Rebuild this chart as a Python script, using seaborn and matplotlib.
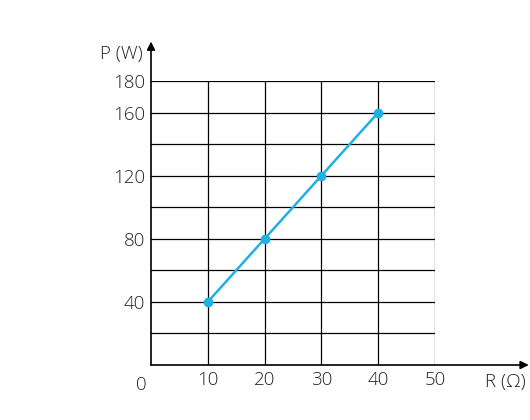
import numpy as np
import pandas as pd
import seaborn as sns
import matplotlib.pyplot as plt

resistance = [10, 20, 30, 40]
power = [40, 80, 120, 160]
x_ticks = [10, 20, 30, 40, 50]
y_ticks = [40, 80, 120, 160, 180]

df = pd.DataFrame({"R": resistance, "P": power})

sns.set_style("white")
plt.rcParams['font.family'] = ['Open Sans', 'DejaVu Sans']

fig = plt.figure(figsize=(5.3, 4.2), dpi=100)
ax = fig.add_axes([151 / 530, 55 / 420, 284 / 530, 284 / 420])

ax.set_xlim(0, 50)
ax.set_ylim(0, 180)

# grid: every 10 in x, every 20 in y, plus the 180 top line
for gx in range(10, 51, 10):
    ax.plot([gx, gx], [0, 180], color="black", lw=0.9, zorder=1)
for gy in list(range(20, 161, 20)) + [180]:
    ax.plot([0, 50], [gy, gy], color="black", lw=0.9, zorder=1)

sns.lineplot(data=df, x="R", y="P", ax=ax, color="#1fb0e6", lw=1.8,
             marker="o", markersize=7, markeredgewidth=0, zorder=3)

for s in ax.spines.values():
    s.set_visible(False)

# axes with arrows
ax.annotate("", xy=(66.5, 0), xytext=(0, 0), annotation_clip=False,
            arrowprops=dict(arrowstyle="-|>", color="black", lw=1.2,
                            mutation_scale=12, shrinkA=0, shrinkB=0))
ax.annotate("", xy=(0, 205), xytext=(0, 0), annotation_clip=False,
            arrowprops=dict(arrowstyle="-|>", color="black", lw=1.2,
                            mutation_scale=12, shrinkA=0, shrinkB=0))

fs = 13.5
ax.set_xticks(x_ticks)
ax.set_yticks(y_ticks)
ax.tick_params(length=0, labelsize=fs, colors="#222222", pad=4)
for lab in ax.get_xticklabels() + ax.get_yticklabels():
    lab.set_fontweight("light")
ax.set_xlabel("")
ax.set_ylabel("")

ax.text(-0.8, -7, "0", ha="right", va="top", fontsize=fs, color="#222222", fontweight="light")
ax.text(-1.5, 197, "P (W)", ha="right", va="center", fontsize=fs, color="#222222", fontweight="light")
ax.text(66, -11, "R (Ω)", ha="right", va="center", fontsize=fs, color="#222222", fontweight="light")

fig.savefig("out.png", dpi=100)
